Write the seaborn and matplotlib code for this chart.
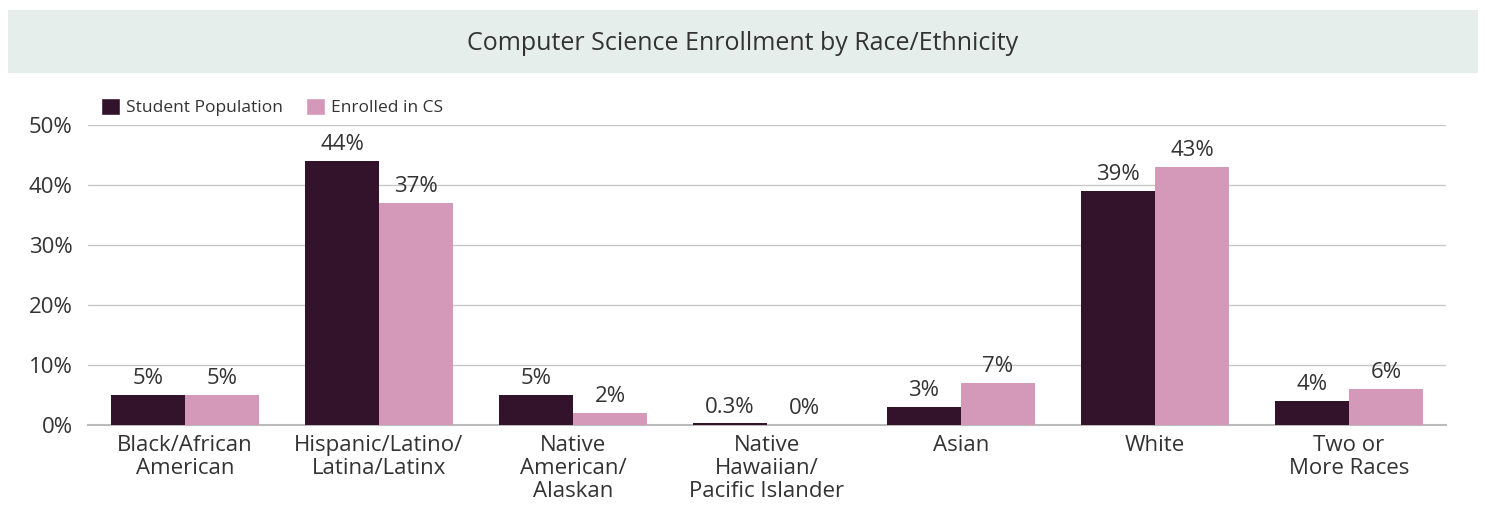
import matplotlib
matplotlib.use("Agg")
import matplotlib.pyplot as plt
from matplotlib.patches import Rectangle
import seaborn as sns
import pandas as pd

categories = [
    "Black/African\nAmerican",
    "Hispanic/Latino/\nLatina/Latinx",
    "Native\nAmerican/\nAlaskan",
    "Native\nHawaiian/\nPacific Islander",
    "Asian",
    "White",
    "Two or\nMore Races",
]
student_population = [5, 44, 5, 0.3, 3, 39, 4]
enrolled_in_cs = [5, 37, 2, 0, 7, 43, 6]
value_labels_pop = ["5%", "44%", "5%", "0.3%", "3%", "39%", "4%"]
value_labels_cs = ["5%", "37%", "2%", "0%", "7%", "43%", "6%"]
series_names = ["Student Population", "Enrolled in CS"]
y_ticks = [0, 10, 20, 30, 40, 50]

df = pd.DataFrame({
    "category": categories * 2,
    "value": student_population + enrolled_in_cs,
    "series": [series_names[0]] * len(categories) + [series_names[1]] * len(categories),
})

sns.set_theme(style="white")
plt.rcParams["font.family"] = ["Open Sans", "DejaVu Sans"]
text_color = "#333333"

fig = plt.figure(figsize=(14.85, 5.08), dpi=100)
ax = fig.add_axes([88 / 1485, 1 - 425 / 508, 1358 / 1485, 300 / 508])

palette = {series_names[0]: "#32132b", series_names[1]: "#d499b9"}
sns.barplot(data=df, x="category", y="value", hue="series", palette=palette,
            width=0.763, saturation=1, linewidth=0, ax=ax, legend=False, zorder=5)

ax.set_ylim(0, 50)
ax.set_xlim(-0.5, len(categories) - 0.5)
ax.set_yticks(y_ticks)
ax.set_yticklabels([f"{t}%" for t in y_ticks], fontsize=16, color=text_color)
ax.tick_params(axis="x", labelsize=16, labelcolor=text_color, length=0, pad=7)
ax.tick_params(axis="y", length=0, pad=11)
for lbl in ax.get_xticklabels():
    lbl.set_linespacing(1.12)
ax.set_xlabel("")
ax.set_ylabel("")
ax.yaxis.grid(True, color="#c8c8c8", linewidth=1, zorder=0)
ax.set_axisbelow(True)
for s in ["top", "right", "left"]:
    ax.spines[s].set_visible(False)
ax.spines["bottom"].set_color("#bbbbbb")
ax.spines["bottom"].set_linewidth(1.5)
ax.spines["bottom"].set_zorder(1)

for container, labels in zip(ax.containers, [value_labels_pop, value_labels_cs]):
    ax.bar_label(container, labels=labels, padding=4, fontsize=16, color=text_color)

# Title band
fig.patches.append(Rectangle((8 / 1485, 1 - 73 / 508), 1470 / 1485, 63 / 508,
                             transform=fig.transFigure, facecolor="#e6eeec",
                             edgecolor="none", zorder=0))
fig.text(0.5, 1 - 44 / 508, "Computer Science Enrollment by Race/Ethnicity",
         ha="center", va="center", fontsize=18, color=text_color)

# Legend
handles = [Rectangle((0, 0), 1, 1, facecolor=palette[n]) for n in series_names]
fig.legend(handles, series_names, loc="center left",
           bbox_to_anchor=(101 / 1485, 1 - 107 / 508), ncol=2, frameon=False,
           fontsize=12.5, handlelength=1.1, handleheight=1.1, handletextpad=0.35,
           columnspacing=1.3, labelcolor=text_color, borderaxespad=0, borderpad=0)

fig.savefig("out.png", dpi=100)
